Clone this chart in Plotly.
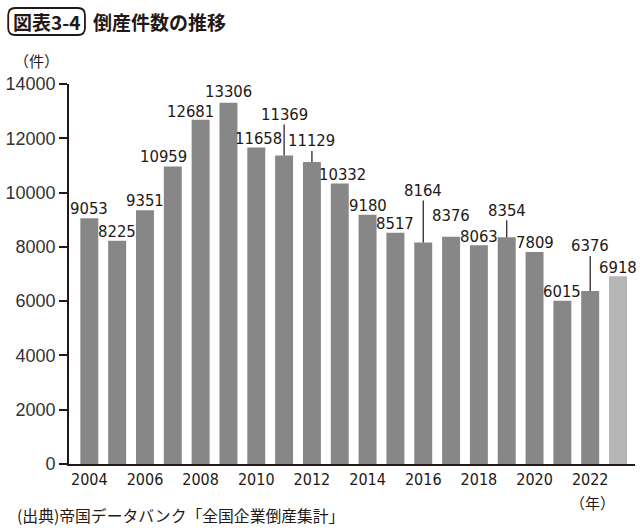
import plotly.graph_objects as go

# ---- data ----
years = list(range(2004, 2024))
counts = [9053, 8225, 9351, 10959, 12681, 13306, 11658, 11369, 11129, 10332,
          9180, 8517, 8164, 8376, 8063, 8354, 7809, 6015, 6376, 6918]
tick_years = list(range(2004, 2023, 2))
tick_labels = [str(y) for y in tick_years]
y_ticks = [0, 2000, 4000, 6000, 8000, 10000, 12000, 14000]
y_tick_labels = [str(v) for v in y_ticks]

# ---- style / layout config ----
W, H = 640, 530
L, R, T, B = 67, 5, 84, 66
PW, PH = W - L - R, H - T - B
INK = "#231815"
BAR = "#878787"
BAR_LAST = "#b5b5b5"
bar_colors = [BAR] * (len(years) - 1) + [BAR_LAST]
NARROW = "DejaVu Sans Condensed, DejaVu Sans"

# label placement (pixels): horizontal shift, gap above bar, leader offset (0 = none)
label_dx = [0, 0, 0, -9, -10, 0, 2, 0, 0, 3, 0, 0, 0, 0, 0, 0, 0, 0, 0, 0]
label_gap = [0, 0, 0, 1, -1, 2, 0, 0, 0, 0, 0, 0, 0, 12, -1, 0, 0, 0, 0, -1]
leader = [0, 0, 0, 0, 0, 0, 0, 41, 21, 0, 0, 0, 52, 0, 0, 27, 0, 0, 45, 0]

x0 = years[0] - 0.73
x1 = years[0] + 19.61


def px(xp):
    return (xp - L) / PW


def py(yp):
    return (H - B - yp) / PH


fig = go.Figure()
fig.add_trace(go.Bar(x=years, y=counts, width=0.645, marker=dict(color=bar_colors, line=dict(width=0)),
                     hoverinfo="x+y"))

LBL_FONT = dict(family=NARROW, size=16.5, color=INK)
ann = []
for yr, v, dx, g, ld in zip(years, counts, label_dx, label_gap, leader):
    if ld:
        ann.append(dict(x=yr, y=v, xref="x", yref="y", text=str(v), showarrow=True,
                        arrowhead=0, arrowwidth=1.2, arrowcolor=INK, ax=0, ay=-ld,
                        standoff=0, font=LBL_FONT, borderpad=0))
    else:
        ann.append(dict(x=yr, y=v, xref="x", yref="y", text=str(v), showarrow=False,
                        yanchor="bottom", xanchor="center", xshift=dx, yshift=g - 2,
                        font=LBL_FONT))

CJK = "Noto Sans CJK JP"
# unit labels and source
ann.append(dict(x=px(34), y=py(72), xref="paper", yref="paper", text="（件）", showarrow=False,
                xanchor="center", yanchor="bottom", borderpad=0,
                font=dict(family=CJK, size=15, color=INK)))
ann.append(dict(x=px(592), y=py(502), xref="paper", yref="paper", text="（年）", showarrow=False,
                xanchor="center", yanchor="middle", font=dict(family=CJK, size=15, color=INK)))
ann.append(dict(x=px(13), y=py(515), xref="paper", yref="paper",
                text="(出典)帝国データバンク「全国企業倒産集計」", showarrow=False,
                xanchor="left", yanchor="middle", font=dict(family=CJK, size=15.8, color=INK)))
# title
ann.append(dict(x=px(44.5), y=py(21.5), xref="paper", yref="paper", text="<b>図表3-4</b>", showarrow=False,
                xanchor="center", yanchor="middle", font=dict(family=CJK, size=19, color=INK)))
ann.append(dict(x=px(89), y=py(21.5), xref="paper", yref="paper", text="<b>倒産件数の推移</b>", showarrow=False,
                xanchor="left", yanchor="middle", font=dict(family=CJK, size=19, color=INK)))

# rounded box around the title tag
bx0, bx1, by0, by1, r = 6, 83, 8, 35, 7
pts = [
    f"M {px(bx0 + r)} {py(by0)}",
    f"L {px(bx1 - r)} {py(by0)}",
    f"Q {px(bx1)} {py(by0)} {px(bx1)} {py(by0 + r)}",
    f"L {px(bx1)} {py(by1 - r)}",
    f"Q {px(bx1)} {py(by1)} {px(bx1 - r)} {py(by1)}",
    f"L {px(bx0 + r)} {py(by1)}",
    f"Q {px(bx0)} {py(by1)} {px(bx0)} {py(by1 - r)}",
    f"L {px(bx0)} {py(by0 + r)}",
    f"Q {px(bx0)} {py(by0)} {px(bx0 + r)} {py(by0)} Z",
]
shapes = [dict(type="path", xref="paper", yref="paper", path=" ".join(pts),
               line=dict(color=INK, width=1.8), fillcolor="rgba(0,0,0,0)")]

fig.update_layout(
    width=W, height=H, margin=dict(l=L, r=R, t=T, b=B),
    paper_bgcolor="white", plot_bgcolor="white", showlegend=False,
    annotations=ann, shapes=shapes,
    xaxis=dict(range=[x0, x1], tickvals=tick_years, ticktext=tick_labels, showgrid=False,
               zeroline=False, showline=True, linecolor=INK, linewidth=1.8, ticks="",
               tickfont=dict(family=NARROW, size=16, color=INK), fixedrange=True),
    yaxis=dict(range=[0, 14000], tickvals=y_ticks, ticktext=y_tick_labels, showgrid=False,
               zeroline=False, showline=True,
               linecolor=INK, linewidth=1.8, ticks="outside", ticklen=8, tickwidth=1.5, tickcolor=INK,
               tickfont=dict(family="Liberation Sans", size=18, color="#333333"), fixedrange=True),
)

fig.write_html("out.html")
